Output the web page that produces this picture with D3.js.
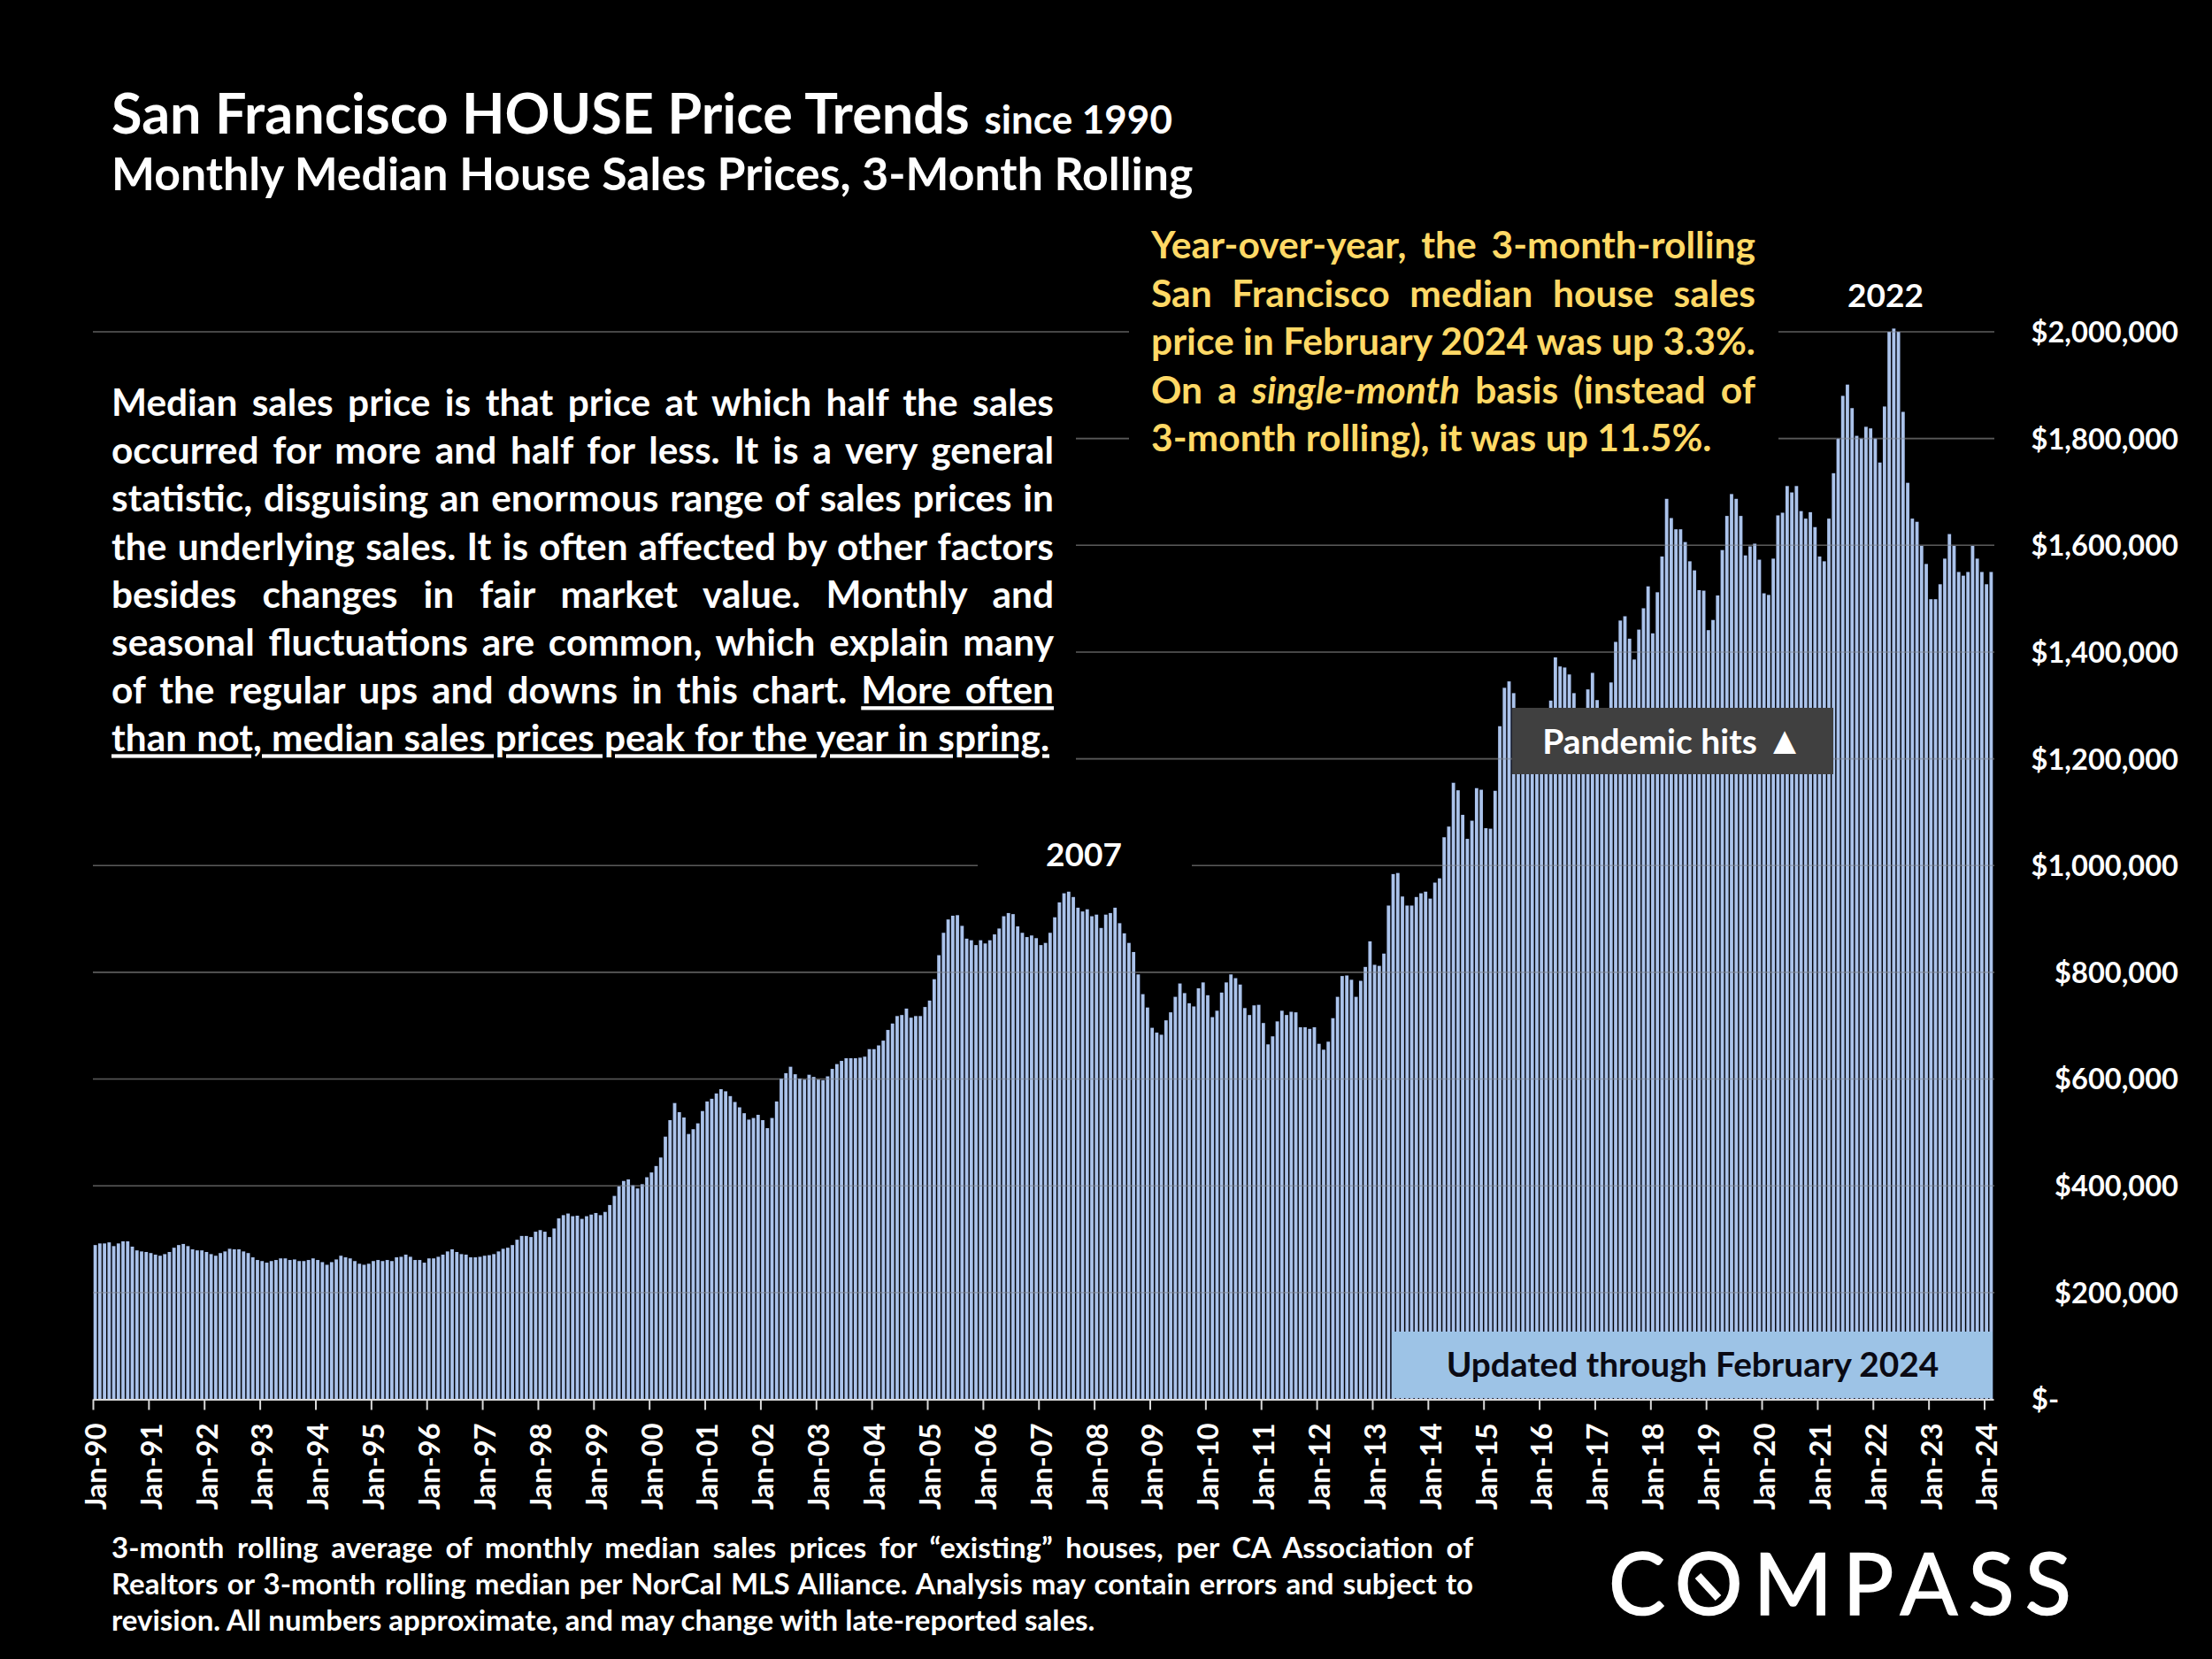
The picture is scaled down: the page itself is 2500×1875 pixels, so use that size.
<!DOCTYPE html>
<html><head><meta charset="utf-8">
<script src="https://cdn.jsdelivr.net/npm/d3@7"></script>
<style>html,body{margin:0;padding:0;background:#000}svg{display:block}text{font-family:Lato,"Open Sans",sans-serif;font-weight:700}</style>
</head><body><svg id="c" width="2500" height="1875"></svg>
<script>
const startYear = 1990;
const priceThousands = [
289,292,292,294,287,292,296,296,286,279,277,276,
274,271,269,272,276,284,289,291,287,281,279,279,
276,272,269,274,277,282,281,281,277,274,266,261,
259,256,259,261,264,264,261,262,259,259,261,264,
261,257,252,257,262,269,266,264,259,254,252,254,
259,261,259,261,259,266,267,271,267,261,261,256,
264,264,267,271,277,281,276,272,271,266,266,267,
269,270,272,277,282,284,289,299,306,306,304,314,
317,314,304,320,339,345,348,343,344,338,343,346,
349,345,351,364,381,399,409,412,401,395,403,416,
425,437,453,492,523,555,538,528,497,506,517,540,
558,563,573,581,577,568,557,547,536,524,527,533,
523,508,527,558,601,611,623,609,601,599,608,604,
599,598,605,619,628,634,639,639,639,640,642,656,
656,663,672,692,704,718,720,732,715,718,718,735,
747,787,832,874,899,906,907,887,863,860,851,860,
854,860,871,882,905,911,909,886,874,866,869,864,
851,855,874,903,931,948,951,941,921,914,918,905,
908,883,908,911,921,892,873,855,838,796,759,734,
696,687,683,710,725,754,779,761,742,736,770,781,
757,716,728,762,781,796,789,777,733,720,738,739,
705,665,680,708,728,720,726,725,697,697,694,697,
666,655,670,714,754,793,794,786,754,784,810,858,
814,812,835,925,984,986,942,925,925,941,948,951,
938,968,976,1053,1073,1155,1141,1095,1050,1084,1145,1142,
1070,1069,1140,1261,1333,1345,1323,1285,1270,1230,1215,1225,
1240,1280,1309,1390,1373,1371,1358,1323,1285,1250,1330,1361,
1310,1290,1280,1343,1419,1459,1467,1425,1386,1442,1482,1523,
1435,1512,1579,1687,1651,1630,1630,1606,1570,1553,1516,1515,
1441,1460,1506,1591,1655,1696,1687,1655,1581,1598,1603,1573,
1510,1507,1575,1656,1661,1711,1699,1711,1664,1650,1662,1634,
1579,1570,1650,1735,1800,1880,1901,1857,1805,1800,1822,1819,
1800,1755,1860,2000,2006,2000,1850,1717,1650,1644,1599,1565,
1499,1499,1527,1575,1621,1599,1550,1543,1550,1599,1575,1550,
1527,1550];
const yTicks = [0,200000,400000,600000,800000,1000000,1200000,1400000,1600000,1800000,2000000];
const titleMain = "San Francisco HOUSE Price Trends";
const titleSince = "since 1990";
const subtitle = "Monthly Median House Sales Prices, 3-Month Rolling";
const medianLines = [
 ["Median sales price is that price at which half the sales"],
 ["occurred for more and half for less. It is a very general"],
 ["statistic, disguising an enormous range of sales prices in"],
 ["the underlying sales. It is often affected by other factors"],
 ["besides changes in fair market value. Monthly and"],
 ["seasonal fluctuations are common, which explain many"],
 ["of the regular ups and downs in this chart. ","u:More often"],
 ["u:than not, median sales prices peak for the year in spring."]];
const yoyLines = [
 ["Year-over-year, the 3-month-rolling"],
 ["San Francisco median house sales"],
 ["price in February 2024 was up 3.3%."],
 ["On a ","i:single-month"," basis (instead of"],
 ["3-month rolling), it was up 11.5%."]];
const noteLines = [
 ["3-month rolling average of monthly median sales prices for “existing” houses, per CA Association of"],
 ["Realtors or 3-month rolling median per NorCal MLS Alliance. Analysis may contain errors and subject to"],
 ["revision. All numbers approximate, and may change with late-reported sales."]];

const svg = d3.select("#c");
svg.append("rect").attr("width",2500).attr("height",1875).attr("fill","#000");
const x = d3.scaleLinear().domain([0,priceThousands.length]).range([105,2253]);
const y = d3.scaleLinear().domain([0,2000000]).range([1581.5,375]);

const gGrid = svg.append("g");
gGrid.selectAll("line").data(yTicks.slice(1)).join("line")
 .attr("x1",105).attr("x2",2254).attr("y1",d=>y(d)).attr("y2",d=>y(d))
 .attr("stroke","#595959").attr("stroke-width",1.6);

const band = x(1)-x(0), barW = band*0.72;
svg.append("g").selectAll("rect").data(priceThousands).join("rect")
 .attr("x",(d,i)=>x(i)+(band-barW)/2).attr("width",barW)
 .attr("y",d=>y(d*1000)).attr("height",d=>y(0)-y(d*1000))
 .attr("fill","#abc3ea").attr("stroke","#0b1230").attr("stroke-width",0.4).attr("paint-order","stroke");

svg.append("g").selectAll("line").data(yTicks.slice(1)).join("line")
 .attr("x1",105).attr("x2",2254).attr("y1",d=>y(d)).attr("y2",d=>y(d))
 .attr("stroke","#595959").attr("stroke-width",1.6).attr("opacity",0.3);

const xAxis = d3.axisBottom(x).tickValues(d3.range(0,priceThousands.length,12))
 .tickFormat(i=>"Jan-"+String((startYear+i/12)%100).padStart(2,"0")).tickSize(12).tickSizeOuter(0);
const gx = svg.append("g").attr("transform",`translate(0,${y(0)})`).call(xAxis);
gx.select(".domain").attr("stroke","#d9d9d9").attr("stroke-width",2);
gx.selectAll(".tick line").attr("stroke","#d9d9d9").attr("stroke-width",2);
gx.selectAll(".tick text").attr("fill","#fff").style("font-size","32.5px")
 .attr("text-anchor","end").attr("transform","translate(3,0) rotate(-90)").attr("x",-27).attr("y",0).attr("dy","0.35em");

const yAxis = d3.axisRight(y).tickValues(yTicks).tickFormat(d=>d===0?"$-":"$"+d3.format(",")(d)).tickSize(0);
const gy = svg.append("g").attr("transform","translate(2462,1)").call(yAxis);
gy.select(".domain").remove();
gy.selectAll(".tick text").attr("fill","#fff").style("font-size","32.6px").attr("x",0).attr("text-anchor","end");
gy.selectAll(".tick text").filter(d=>d===0).attr("x",-166).attr("text-anchor","start");

function box(x0,y0,x1,y1,f){svg.append("rect").attr("x",x0).attr("y",y0).attr("width",x1-x0).attr("height",y1-y0).attr("fill",f||"#000");}
box(100,430,1216,880);
box(1276,250,2010,540);
box(1105,940,1347,990);

function drawLines(lines,x0,x1,y0,dy,size,fill,targets){
 lines.forEach((parts,li)=>{
  const t=svg.append("text").attr("x",x0).attr("y",y0+li*dy).attr("fill",fill).style("font-size",size+"px").style("white-space","pre");
  parts.forEach(p=>{
   const ts=t.append("tspan");
   if(p.startsWith("u:")){ts.text(p.slice(2)).style("text-decoration","underline");}
   else if(p.startsWith("i:")){ts.text(p.slice(2)).style("font-style","italic");}
   else ts.text(p);
  });
  if(targets[li]){
   const w=t.node().getComputedTextLength();
   const n=parts.join("").replace(/[ui]:/g,"").split(" ").length-1;
   t.style("word-spacing",((targets[li]-x0-w)/n)+"px");
  }
 });
}
const tt=svg.append("text").attr("x",126).attr("y",151).attr("fill","#fff").style("font-size","63px");
tt.append("tspan").text(titleMain);
tt.append("tspan").attr("dx",6).text(" "+titleSince).style("font-size","44px");
svg.append("text").attr("x",126).attr("y",215).attr("fill","#fff").style("font-size","51.8px").text(subtitle);

drawLines(medianLines,126,1191,470,54.2,42.4,"#fff",[1191,1191,1191,1191,1191,1191,1191,1186]);
drawLines(yoyLines,1301,1984,292,54.5,42.6,"#ffd966",[1984,1984,1984,1984,0]);
drawLines(noteLines,126,1665,1761,41,33,"#fff",[1665,1665,0]);

svg.append("text").attr("x",1225).attr("y",979).attr("text-anchor","middle").attr("fill","#fff").style("font-size","37px").text("2007");
svg.append("text").attr("x",2131).attr("y",347).attr("text-anchor","middle").attr("fill","#fff").style("font-size","37px").text("2022");
box(1709,800,2072,875,"#404040");
const pt=svg.append("text").attr("x",1891).attr("y",852).attr("text-anchor","middle").attr("fill","#fff").style("font-size","39px");
pt.append("tspan").text("Pandemic hits ");
pt.append("tspan").text("▲").style("font-size","44px");
box(1573,1505,2252,1580,"#9dc3e6");
svg.append("text").attr("x",1913).attr("y",1556).attr("text-anchor","middle").attr("fill","#0a0a14").style("font-size","38.8px").text("Updated through February 2024");

svg.append("text").attr("x",1818).attr("y",1825).attr("fill","#fff").attr("stroke","#fff").attr("stroke-width",1.5).style("font-size","96px").style("font-weight","400").style("letter-spacing","12px").text("COMPASS");
svg.append("line").attr("x1",1919).attr("y1",1781).attr("x2",1942).attr("y2",1806).attr("stroke","#fff").attr("stroke-width",9);
</script></body></html>
